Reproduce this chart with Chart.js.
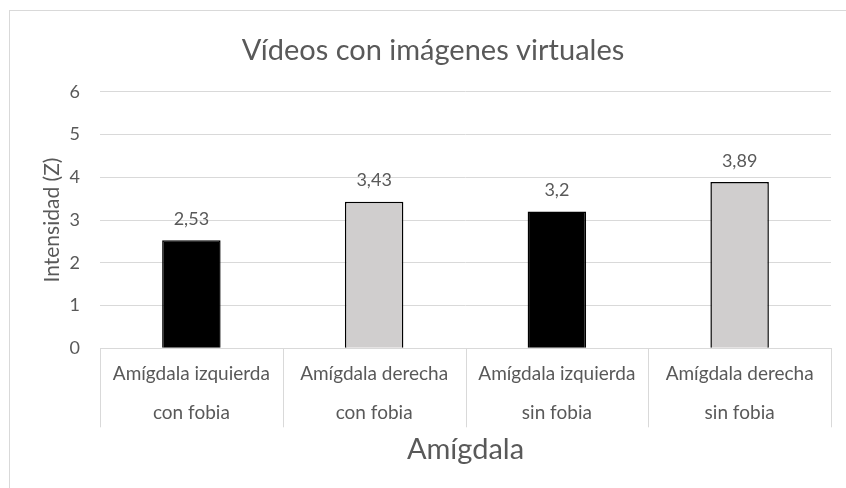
<!DOCTYPE html>
<html>
<head>
<meta charset="utf-8">
<script src="https://cdn.jsdelivr.net/npm/chart.js@4.4.1/dist/chart.umd.min.js"></script>
<style>
  html, body { margin: 0; padding: 0; background: #fff; overflow: hidden; }
  #frame { position: absolute; left: 9px; top: 10px; width: 900px; height: 600px; border: 1px solid #d9d9d9; }
  #wrap { position: absolute; left: 0; top: 0; width: 866px; height: 488px; }
</style>
</head>
<body>
<div id="frame"></div>
<div id="wrap"><canvas id="chart"></canvas></div>
<script>
// Intensidad media por amígdala
const categories = [
    ['Amígdala izquierda', 'con fobia'],
    ['Amígdala derecha', 'con fobia'],
    ['Amígdala izquierda', 'sin fobia'],
    ['Amígdala derecha', 'sin fobia']
];
const values = [2.53, 3.43, 3.2, 3.89];
const barColors = ['#000000', '#d0cece', '#000000', '#d0cece'];
const yMax = 6;
const yStep = 1;
const yTitle = 'Intensidad (Z)';

const FONT = "Lato, sans-serif";
const TEXT = '#595959';
const GRID = '#d9d9d9';

// value labels above each bar, decimal comma
const barLabels = {
    id: 'barLabels',
    afterDatasetsDraw(chart) {
        const ctx = chart.ctx;
        const meta = chart.getDatasetMeta(0);
        ctx.save();
        ctx.font = '18px ' + FONT;
        ctx.fillStyle = TEXT;
        ctx.textAlign = 'center';
        ctx.textBaseline = 'middle';
        meta.data.forEach((bar, i) => {
            ctx.fillText(String(values[i]).replace('.', ','), bar.x, bar.y - 21);
        });
        ctx.restore();
    }
};

// vertical separators between category labels + rotated y title
const axisExtras = {
    id: 'axisExtras',
    afterDraw(chart) {
        const x = chart.scales.x;
        const area = chart.chartArea;
        const ctx = chart.ctx;
        ctx.save();
        ctx.strokeStyle = GRID;
        ctx.lineWidth = 1;
        for (let i = 0; i <= categories.length; i++) {
            const px = Math.round(x.getPixelForValue(i - 0.5)) + 0.5;
            ctx.beginPath();
            ctx.moveTo(px, area.bottom);
            ctx.lineTo(px, area.bottom + 79);
            ctx.stroke();
        }
        ctx.translate(area.left - 48, (area.top + area.bottom) / 2);
        ctx.rotate(-Math.PI / 2);
        ctx.font = '21px ' + FONT;
        ctx.fillStyle = TEXT;
        ctx.textAlign = 'center';
        ctx.textBaseline = 'middle';
        ctx.fillText(yTitle, 0, 0);
        ctx.restore();
    }
};

new Chart(document.getElementById('chart'), {
    type: 'bar',
    data: {
        labels: categories,
        datasets: [{
            data: values,
            backgroundColor: barColors,
            borderColor: '#000000',
            borderWidth: 1.5,
            categoryPercentage: 1,
            barPercentage: 0.32
        }]
    },
    options: {
        responsive: true,
        maintainAspectRatio: false,
        animation: false,
        layout: { padding: { left: 35, right: 35, top: 8, bottom: 21 } },
        plugins: {
            legend: { display: false },
            tooltip: { enabled: false },
            title: {
                display: true,
                text: 'Vídeos con imágenes virtuales',
                color: TEXT,
                font: { family: FONT, size: 29, weight: 'normal' },
                padding: { top: 25, bottom: 24 }
            }
        },
        scales: {
            y: {
                min: 0,
                max: yMax,
                afterFit(scale) { scale.width = 65; },
                border: { display: false },
                grid: { color: GRID, drawTicks: false },
                ticks: { stepSize: yStep, color: TEXT, padding: 20, font: { family: FONT, size: 18 } }
            },
            x: {
                afterFit(scale) {
                    scale.paddingLeft = 0;
                    scale.paddingRight = 0;
                },
                border: { color: GRID },
                grid: { display: false, drawTicks: false },
                ticks: {
                    color: TEXT,
                    padding: 6,
                    maxRotation: 0,
                    font: { family: FONT, size: 19, lineHeight: 2.05 }
                },
                title: {
                    display: true,
                    text: 'Amígdala',
                    color: TEXT,
                    font: { family: FONT, size: 29 },
                    padding: { top: -6, bottom: 0 }
                }
            }
        }
    },
    plugins: [barLabels, axisExtras]
});
</script>
</body>
</html>
